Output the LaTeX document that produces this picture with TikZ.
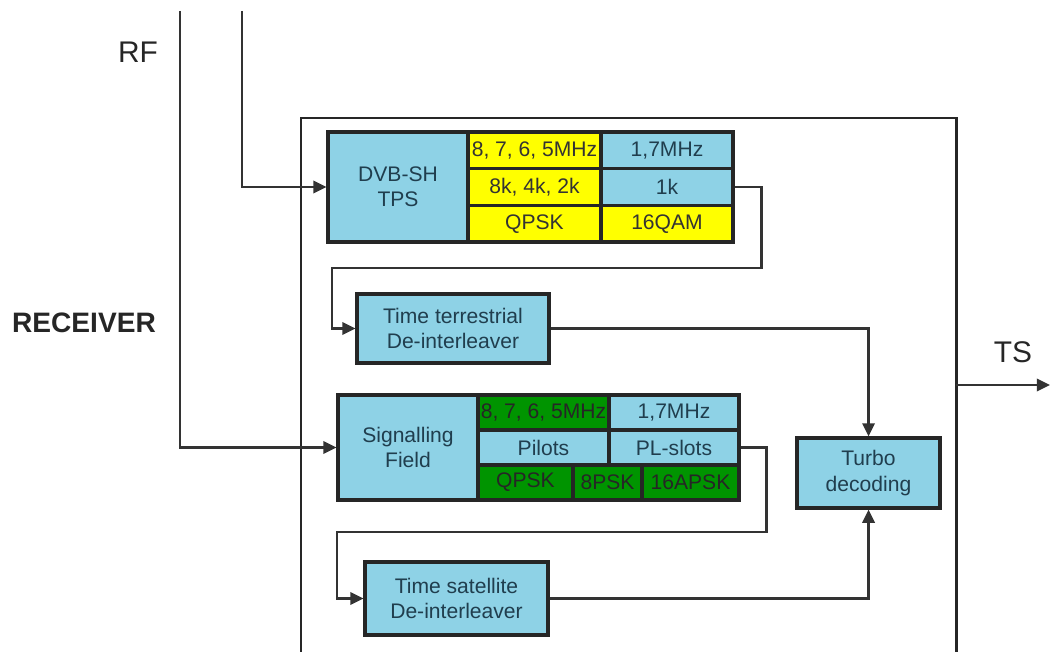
\documentclass[tikz,border=0pt]{standalone}
\usepackage{fontspec}
\setmainfont{Liberation Sans}
\usetikzlibrary{arrows.meta}
\definecolor{cellblue}{RGB}{142,210,230}
\definecolor{cellyellow}{RGB}{255,255,0}
\definecolor{cellgreen}{RGB}{0,148,0}
\definecolor{boxtext}{RGB}{32,62,78}

\begin{document}
\begin{tikzpicture}[x=0.02cm,y=-0.02cm,
  blk/.style={draw=black!85,line width=1.8pt,fill=cellblue,align=center,
              inner sep=0pt,text=boxtext,font=\fontsize{12}{14.5}\selectfont},
  ycell/.style={blk,fill=cellyellow,text=black!80},
  gcell/.style={blk,fill=cellgreen,text=black!85},
  arr/.style={-{Triangle[length=7.5pt,width=7pt]},line width=1.4pt,draw=black!80},
  lbl/.style={font=\fontsize{17}{20}\selectfont,text=black!85}
]
\useasboundingbox (0,0) rectangle (1051,652);

% outer receiver box (open at the bottom)
\draw[line width=1.7pt,draw=black!85] (301,652) |- (956,118) -- (956,652);

\node[lbl] (rf) at (138,52) {RF};
\node[lbl,font=\fontsize{16}{20}\selectfont\bfseries] (recv) at (84,323) {RECEIVER};
\node[lbl] (ts) at (1013,352) {TS};

% DVB-SH TPS block
\node[blk,minimum width=2.8cm,minimum height=2.2cm] (tps) at (398,187) {DVB-SH\\TPS};
\node[ycell,minimum width=2.66cm,minimum height=0.733cm] (tpsA1) at (534.5,150.3) {8, 7, 6, 5MHz};
\node[blk,minimum width=2.64cm,minimum height=0.733cm] (tpsB1) at (667,150.3) {1,7MHz};
\node[ycell,minimum width=2.66cm,minimum height=0.733cm] (tpsA2) at (534.5,187) {8k, 4k, 2k};
\node[blk,minimum width=2.64cm,minimum height=0.733cm] (tpsB2) at (667,187) {1k};
\node[ycell,minimum width=2.66cm,minimum height=0.733cm] (tpsA3) at (534.5,223.7) {QPSK};
\node[ycell,minimum width=2.64cm,minimum height=0.733cm] (tpsB3) at (667,223.7) {16QAM};

% signalling field block
\node[blk,minimum width=2.8cm,minimum height=2.1cm] (sig) at (408,447.5) {Signalling\\Field};
\node[gcell,minimum width=2.62cm,minimum height=0.7cm] (sigA1) at (543.5,412.5) {8, 7, 6, 5MHz};
\node[blk,minimum width=2.6cm,minimum height=0.7cm] (sigB1) at (674,412.5) {1,7MHz};
\node[blk,minimum width=2.62cm,minimum height=0.7cm] (sigA2) at (543.5,447.5) {Pilots};
\node[blk,minimum width=2.6cm,minimum height=0.7cm] (sigB2) at (674,447.5) {PL-slots};
\node[gcell,minimum width=1.9cm,minimum height=0.7cm] (sigA3) at (525.5,482.5) {QPSK};
\node[gcell,minimum width=1.38cm,minimum height=0.7cm] (sigB3) at (607.5,482.5) {8PSK};
\node[gcell,minimum width=1.94cm,minimum height=0.7cm] (sigC3) at (690.5,482.5) {16APSK};

% de-interleavers and decoder
\node[blk,minimum width=3.84cm,minimum height=1.38cm] (ter) at (453,328.5)
  {Time terrestrial\\De-interleaver};
\node[blk,minimum width=3.66cm,minimum height=1.46cm] (sat) at (456.5,598.5)
  {Time satellite\\De-interleaver};
\node[blk,minimum width=2.86cm,minimum height=1.4cm] (turbo) at (868.5,473)
  {Turbo\\decoding};

\coordinate (rfA) at (180,11);
\coordinate (rfB) at (242,11);
\coordinate (tbend) at (332,268);
\coordinate (sbend) at (337,532);
\coordinate (tsout) at (956,385);
\coordinate (tsend) at (1050,385);

\draw[arr] (rfA) |- (sig.west);
\draw[arr] (rfB) |- (tps.west);
\draw[arr] (tpsB2.east) -- ++(27,0) |- (tbend) |- (ter.west);
\draw[arr] (ter.east) -| (turbo.north);
\draw[arr] (sigB2.east) -- ++(26,0) |- (sbend) |- (sat.west);
\draw[arr] (sat.east) -| (turbo.south);
\draw[arr] (tsout) -- (tsend);
\end{tikzpicture}
\end{document}
